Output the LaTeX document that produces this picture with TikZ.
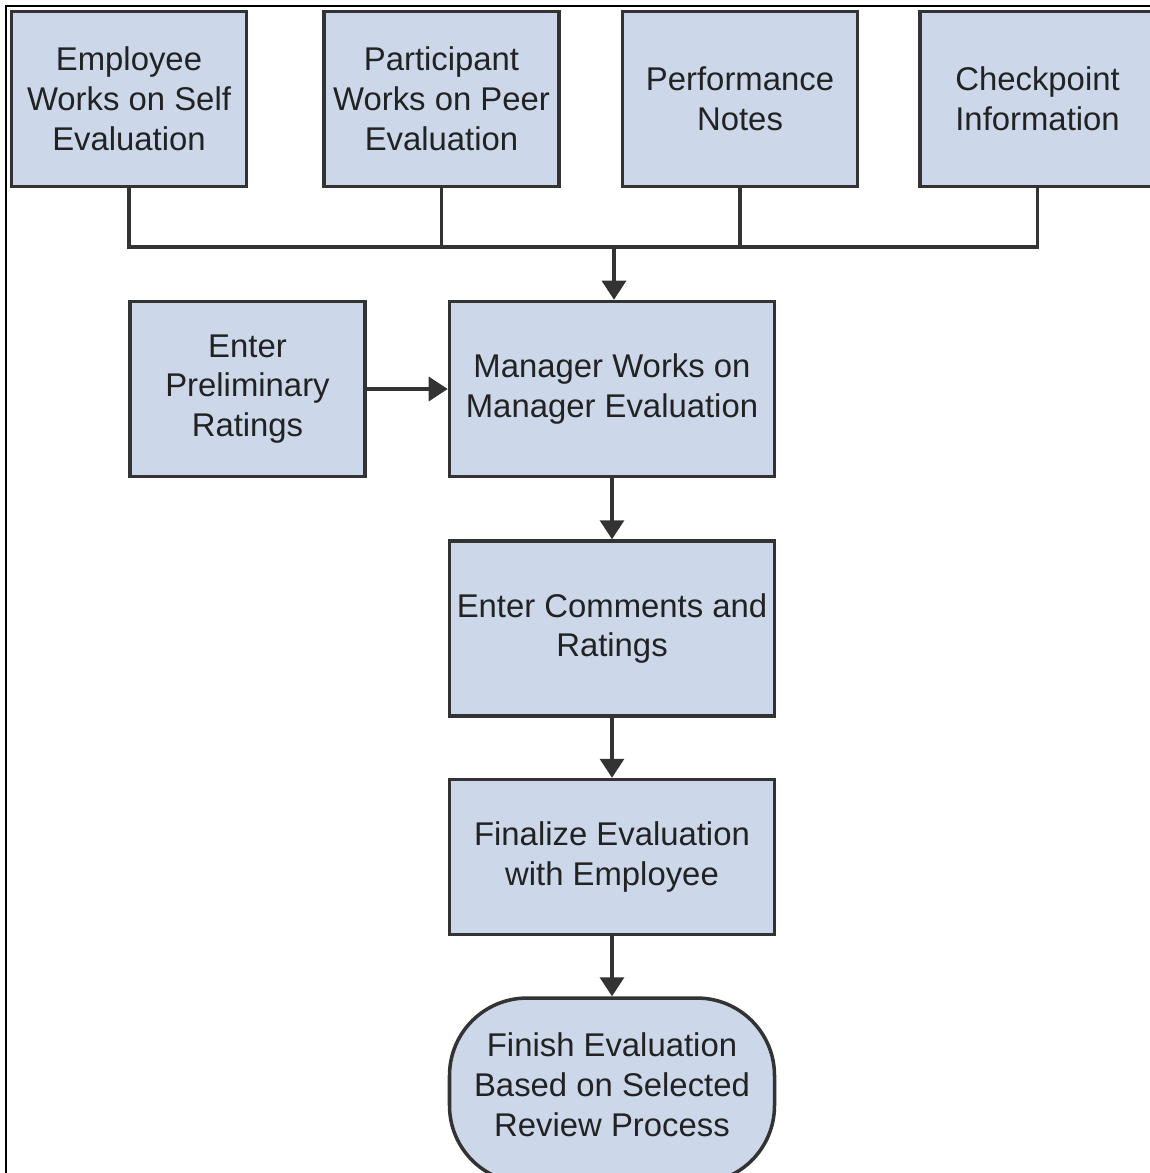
\documentclass[tikz,border=0pt]{standalone}
\usepackage{fontspec}
\setmainfont{Liberation Sans}
\usepackage{tikz}
\usetikzlibrary{arrows.meta, positioning}
\definecolor{boxfill}{HTML}{CCD8EA}
\definecolor{boxline}{HTML}{333333}
\definecolor{txt}{HTML}{222222}

\begin{document}
\begin{tikzpicture}[
  box/.style={rectangle, draw=boxline, line width=2pt, fill=boxfill, text=txt,
    minimum width=4.7cm, minimum height=3.5cm, align=center,
    font=\fontsize{18.7}{22.7}\selectfont},
  wide/.style={minimum width=6.5cm},
  endbox/.style={box, wide, minimum height=3.7cm, rounded corners=1.55cm, text depth=0.24cm},
  line/.style={draw=boxline, line width=1.8pt},
  arrow/.style={line, -{Triangle[length=3.8mm, width=4.8mm]}},
  node distance=1.2cm
]
\useasboundingbox (0,0) rectangle (23,-23.46);
\draw[black, line width=1.2pt] (0.12,-23.46) -- (0.12,-0.12) -- (23,-0.12);

% top row
\node[box] (emp) at (2.58,-1.98) {Employee\\Works on Self\\Evaluation};
\node[box, right=1.48cm of emp] (peer) {Participant\\Works on Peer\\Evaluation};
\node[box, right=of peer] (notes) {Performance\\Notes};
\node[box, right=1.18cm of notes] (check) {Checkpoint\\Information};

% main flow
\node[box, wide] (mgr) at (12.24,-7.78) {Manager Works on\\Manager Evaluation};
\node[box, left=1.62cm of mgr] (prelim) {Enter\\Preliminary\\Ratings};
\node[box, wide, below=1.22cm of mgr] (comm) {Enter Comments and\\Ratings};
\node[box, wide, minimum height=3.1cm, below=of comm] (final) {Finalize Evaluation\\with Employee};
\node[endbox, below=of final] (finish) {Finish Evaluation\\Based on Selected\\Review Process};

\coordinate (bus) at (0,-4.94);
\draw[line] (emp.south) -- (emp.south |- bus) -- (check.south |- bus) -- (check.south);
\draw[line] (peer.south) -- (peer.south |- bus);
\draw[line] (notes.south) -- (notes.south |- bus);
\draw[arrow] ([xshift=0.04cm]mgr.north |- bus) -- ([xshift=0.04cm]mgr.north);

\draw[arrow] (prelim) -- (mgr);
\draw[arrow] (mgr) -- (comm);
\draw[arrow] (comm) -- (final);
\draw[arrow] (final) -- (finish);

\end{tikzpicture}
\end{document}
